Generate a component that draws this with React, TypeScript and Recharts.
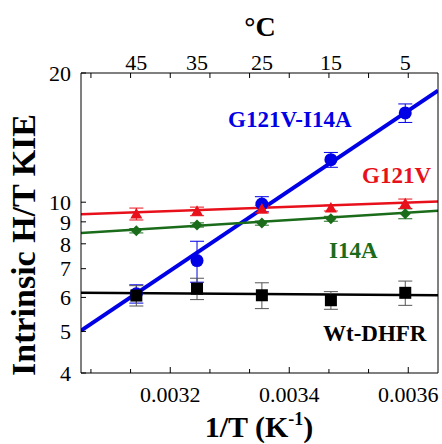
import React from "react";
import { ComposedChart, Line, Scatter, XAxis, YAxis, ErrorBar } from "recharts";

// 1/T (K^-1) at 45, 35, 25, 15, 5 °C
const invT = [0.003143, 0.003245, 0.003354, 0.00347, 0.003595];
const tempLabels = ["45", "35", "25", "15", "5"];
const xDomain = [0.00305, 0.00365];
const xTicks = [0.0030667, 0.0031333, 0.0032, 0.0032667, 0.0033333, 0.0034, 0.0034667, 0.0035333, 0.0036];
const xMajor = [0.0032, 0.0034, 0.0036];
const yTicks = [4, 5, 6, 7, 8, 9, 10, 20];

const wtKie = [6.06, 6.29, 6.07, 5.91, 6.15];
const wtErr = [0.33, 0.36, 0.42, 0.28, 0.4];
const wtFit = [6.15, 6.07];

const g121vKie = [9.39, 9.52, 9.64, 9.69, 9.92];
const g121vErr = [0.3, 0.22, 0.2, 0.15, 0.25];
const g121vFit = [9.37, 10.04];

const i14aKie = [8.58, 8.85, 8.94, 9.15, 9.4];
const i14aErr = [0.1, 0.1, 0.1, 0.12, 0.25];
const i14aFit = [8.48, 9.55];

const dblKie = [6.12, 7.31, 9.9, 12.56, 16.14];
const dblErr = [0.3, 0.8, 0.4, 0.5, 0.8];
const dblFit = [5.02, 18.2];

const BLUE = "#0000e6";
const RED = "#e8101a";
const GREEN = "#1a6b1a";
const SERIF = "'Liberation Serif', 'Times New Roman', serif";

const pts = (kie: number[], err: number[]) => invT.map((x, i) => ({ x, y: kie[i], err: err[i] }));
const fit = (ends: number[]) => [
  { x: xDomain[0], y: ends[0] },
  { x: xDomain[1], y: ends[1] },
];

const Square = (p: any) => <rect x={p.cx - 6} y={p.cy - 6} width={12} height={12} fill="#000" />;
const Dot = (p: any) => <circle cx={p.cx} cy={p.cy} r={6.5} fill={BLUE} />;
const Tri = (p: any) => (
  <polygon points={`${p.cx},${p.cy - 6} ${p.cx + 6},${p.cy + 4.5} ${p.cx - 6},${p.cy + 4.5}`} fill={RED} />
);
const Diamond = (p: any) => (
  <polygon points={`${p.cx},${p.cy - 5.5} ${p.cx + 5.5},${p.cy} ${p.cx},${p.cy + 5.5} ${p.cx - 5.5},${p.cy}`} fill={GREEN} />
);

// top axis: tick marks mirror the bottom ones, labels sit at the °C positions
const TopTick = (p: any) => {
  const v = p.payload.value;
  const i = invT.indexOf(v);
  if (i >= 0) {
    return (
      <text x={p.x} y={p.y} textAnchor="middle" fontSize={22} fontFamily={SERIF} fill="#000">
        {tempLabels[i]}
      </text>
    );
  }
  return <line x1={p.x} x2={p.x} y1={p.y + 3} y2={p.y + 8} stroke="#000" strokeWidth={1} />;
};

const BottomTick = (p: any) => {
  const v = p.payload.value;
  const major = xMajor.some((m) => Math.abs(m - v) < 1e-7);
  const axisY = p.y - 14;
  return (
    <g>
      <line x1={p.x} x2={p.x} y1={axisY} y2={axisY - (major ? 6 : 4)} stroke="#000" strokeWidth={1} />
      {major && (
        <text x={p.x} y={p.y + 15} textAnchor="middle" fontSize={22} fontFamily={SERIF} fill="#000">
          {v.toFixed(4)}
        </text>
      )}
    </g>
  );
};

const tickFont = { fontSize: 22, fill: "#000", fontFamily: SERIF };
const axisStyle = { stroke: "#000", strokeWidth: 1 };

export default function App() {
  return (
    <div style={{ position: "absolute", left: 0, top: 0, width: 442, height: 444, background: "#fff", fontFamily: SERIF }}>
      <ComposedChart width={442} height={444} margin={{ top: 0, right: 3, bottom: 0, left: 0 }}>
        <XAxis
          xAxisId="bottom"
          dataKey="x"
          type="number"
          domain={xDomain}
          allowDataOverflow
          ticks={xTicks}
          interval={0}
          height={71}
          tickSize={0}
          tickMargin={14}
          tick={BottomTick}
          axisLine={axisStyle}
          tickLine={false}
        />
        <XAxis
          xAxisId="top"
          dataKey="x"
          orientation="top"
          type="number"
          domain={xDomain}
          allowDataOverflow
          ticks={[...xTicks, ...invT]}
          interval={0}
          height={73}
          tickSize={0}
          tickMargin={3}
          tick={TopTick}
          axisLine={axisStyle}
          tickLine={false}
        />
        <YAxis
          yAxisId="left"
          dataKey="y"
          type="number"
          scale="log"
          domain={[4, 20]}
          allowDataOverflow
          ticks={yTicks}
          interval={0}
          width={81}
          tickSize={-5}
          tickMargin={15}
          tick={tickFont}
          axisLine={axisStyle}
          tickLine={axisStyle}
        />
        <YAxis
          yAxisId="right"
          dataKey="y"
          orientation="right"
          type="number"
          scale="log"
          domain={[4, 20]}
          allowDataOverflow
          ticks={yTicks}
          interval={0}
          width={1}
          tick={false}
          tickSize={-5}
          axisLine={axisStyle}
          tickLine={axisStyle}
        />

        <Line xAxisId="top" yAxisId="right" data={fit(dblFit)} dataKey="y" stroke={BLUE} strokeWidth={4} dot={false} isAnimationActive={false} />
        <Scatter xAxisId="bottom" yAxisId="left" data={pts(dblKie, dblErr)} dataKey="y" shape={Dot} isAnimationActive={false}>
          <ErrorBar dataKey="err" direction="y" width={7} stroke={BLUE} strokeWidth={1} />
        </Scatter>

        <Line xAxisId="top" yAxisId="right" data={fit(i14aFit)} dataKey="y" stroke={GREEN} strokeWidth={2.5} dot={false} isAnimationActive={false} />
        <Scatter xAxisId="bottom" yAxisId="left" data={pts(i14aKie, i14aErr)} dataKey="y" shape={Diamond} isAnimationActive={false}>
          <ErrorBar dataKey="err" direction="y" width={7} stroke={GREEN} strokeWidth={1} />
        </Scatter>

        <Line xAxisId="top" yAxisId="right" data={fit(g121vFit)} dataKey="y" stroke={RED} strokeWidth={2.5} dot={false} isAnimationActive={false} />
        <Scatter xAxisId="bottom" yAxisId="left" data={pts(g121vKie, g121vErr)} dataKey="y" shape={Tri} isAnimationActive={false}>
          <ErrorBar dataKey="err" direction="y" width={7} stroke={RED} strokeWidth={1} />
        </Scatter>

        <Line xAxisId="top" yAxisId="right" data={fit(wtFit)} dataKey="y" stroke="#000" strokeWidth={2.5} dot={false} isAnimationActive={false} />
        <Scatter xAxisId="bottom" yAxisId="left" data={pts(wtKie, wtErr)} dataKey="y" shape={Square} isAnimationActive={false}>
          <ErrorBar dataKey="err" direction="y" width={7} stroke="#555" strokeWidth={1} />
        </Scatter>
      </ComposedChart>

      <svg width={442} height={444} style={{ position: "absolute", left: 0, top: 0, pointerEvents: "none" }}>
        <g fontFamily={SERIF} fontWeight="bold">
          <text x={260} y={36} fontSize={28} textAnchor="middle" fill="#000">°C</text>
          <text x={35} y={245} fontSize={34} textAnchor="middle" fill="#000" transform="rotate(-90 35 245)">
            Intrinsic H/T KIE
          </text>
          <text x={259} y={437} fontSize={30} textAnchor="middle" fill="#000">
            1/T (K<tspan fontSize={18} dy={-12}>-1</tspan><tspan dy={12}>)</tspan>
          </text>
          <text x={228} y={127} fontSize={23} fill={BLUE}>G121V-I14A</text>
          <text x={362} y={183} fontSize={23} fill={RED}>G121V</text>
          <text x={329} y={258} fontSize={23} fill={GREEN}>I14A</text>
          <text x={323} y={341} fontSize={23} fill="#000">Wt-DHFR</text>
        </g>
      </svg>
    </div>
  );
}
